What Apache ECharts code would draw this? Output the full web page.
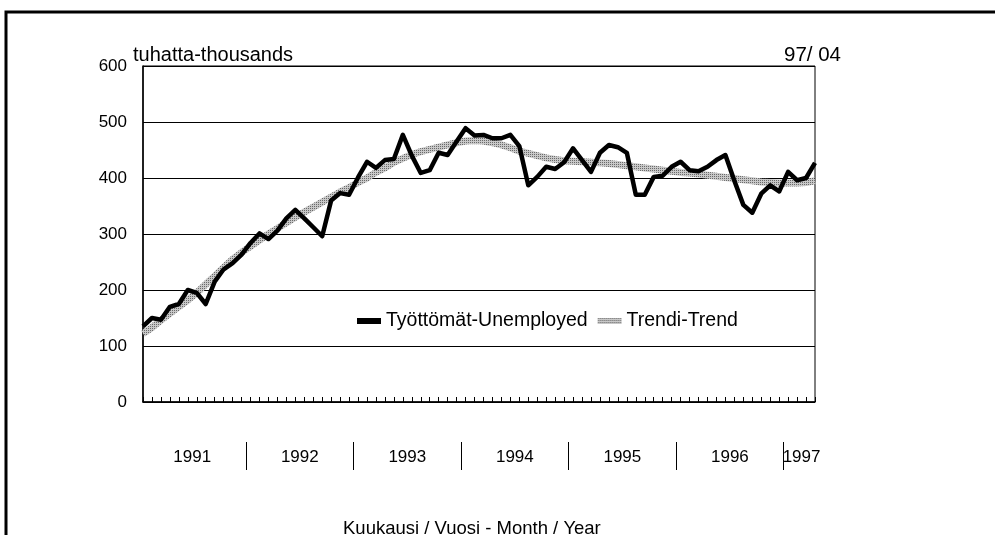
<!DOCTYPE html>
<html>
<head>
<meta charset="utf-8">
<script src="https://cdn.jsdelivr.net/npm/echarts@6/dist/echarts.min.js"></script>
<style>
  html, body { margin: 0; padding: 0; background: #fff; }
  #main { width: 995px; height: 535px; }
</style>
</head>
<body>
<div id="main"></div>
<script>
// kuukaudet 1991/01 - 1997/04
let years = ['1991', '1992', '1993', '1994', '1995', '1996', '1997'];
let monthsInYear = [12, 12, 12, 12, 12, 12, 4];

// tuhatta-thousands
let unemployed = [135, 150, 147, 170, 175, 200, 195, 175, 215, 237,
                  248, 263, 284, 301, 291, 306, 328, 343, 328, 312,
                  296, 360, 373, 370, 401, 429, 418, 432, 434, 477,
                  440, 409, 414, 445, 441, 465, 489, 476, 477, 471,
                  471, 477, 457, 387, 402, 420, 416, 428, 453, 432,
                  411, 445, 459, 455, 445, 370, 370, 402, 404, 420,
                  429, 414, 412, 420, 432, 441, 395, 352, 338, 372,
                  387, 376, 411, 396, 400, 427];
let trend = [122, 133, 146, 158, 170, 182, 195, 210, 225, 240,
             255, 267, 278, 289, 300, 310, 320, 330, 339, 348,
             357, 366, 375, 383, 392, 400, 410, 418, 428, 435,
             442, 447, 451, 455, 459, 463, 466, 467, 466, 463,
             459, 454, 448, 444, 440, 436, 433, 431, 430, 429,
             428, 427, 426, 424, 422, 420, 418, 416, 414, 412,
             410, 409, 407, 405, 403, 401, 399, 397, 395, 393,
             392, 391, 391, 391, 392, 395];

let months = [];
let yearMid = [];
let yearSep = [];
let n = 0;
years.forEach(function (y, k) {
    yearMid.push(n + (monthsInYear[k] - 1) / 2);
    for (let m = 1; m <= monthsInYear[k]; m++) {
        months.push(y + '/' + (m < 10 ? '0' + m : m));
    }
    n += monthsInYear[k];
    if (k < years.length - 1) yearSep.push(n - 0.5);
});

// harmaa "kuvioitu" trendiviiva
let pat = document.createElement('canvas');
pat.width = 4; pat.height = 4;
let pc = pat.getContext('2d');
pc.fillStyle = '#c8c8c8'; pc.fillRect(0, 0, 4, 4);
pc.fillStyle = '#6a6a6a';
pc.fillRect(0, 0, 1, 1); pc.fillRect(2, 2, 1, 1); pc.fillRect(2, 0, 1, 1); pc.fillRect(0, 2, 1, 1);
let trendColor = { image: pat, repeat: 'repeat' };

let font = 'Liberation Sans, Arial, sans-serif';
let chart = echarts.init(document.getElementById('main'));

let option = {
    backgroundColor: '#fff',
    animation: false,
    textStyle: { fontFamily: font, color: '#000' },
    title: [
        { text: 'tuhatta-thousands', left: 128, top: 40,
          textStyle: { fontSize: 20, fontWeight: 'normal', color: '#000' } },
        { text: '97/ 04', right: 149, top: 40,
          textStyle: { fontSize: 20.5, fontWeight: 'normal', color: '#000' } },
        { text: 'Kuukausi / Vuosi - Month / Year', left: 338, top: 514,
          textStyle: { fontSize: 18.5, fontWeight: 'normal', color: '#000' } }
    ],
    legend: {
        left: 352, top: 306,
        itemWidth: 24, itemHeight: 6, itemGap: 10,
        icon: 'rect',
        data: ['Työttömät-Unemployed', 'Trendi-Trend'],
        textStyle: { fontSize: 19.5, color: '#000', fontFamily: font }
    },
    grid: {
        left: 143, right: 180, top: 66, bottom: 133,
        show: true, borderColor: '#000', borderWidth: 1
    },
    xAxis: [{
        type: 'category',
        data: months,
        boundaryGap: false,
        axisLine: { lineStyle: { color: '#000', width: 1.5 } },
        axisTick: { show: true, inside: true, length: 5, interval: 0,
                    lineStyle: { color: '#000' } },
        axisLabel: { show: false },
        splitLine: { show: false }
    }, {
        type: 'value',
        min: 0, max: months.length - 1,
        position: 'bottom',
        offset: 40,
        axisLine: { show: false },
        splitLine: { show: false },
        axisTick: { show: true, customValues: yearSep, length: 28,
                    lineStyle: { color: '#000', width: 1 } },
        axisLabel: {
            customValues: yearMid, margin: 7, fontSize: 17, color: '#000',
            formatter: function (v) {
                let k = yearMid.indexOf(v);
                return k >= 0 ? years[k] : '';
            }
        }
    }],
    yAxis: {
        type: 'value',
        min: 0, max: 600, interval: 100,
        axisLine: { show: true, lineStyle: { color: '#000', width: 1.5 } },
        axisTick: { show: false },
        axisLabel: { fontSize: 17, color: '#000', margin: 16 },
        splitLine: { lineStyle: { color: '#000', width: 1 } }
    },
    series: [{
        name: 'Trendi-Trend',
        type: 'line',
        data: trend,
        symbol: 'none',
        itemStyle: { color: trendColor },
        lineStyle: { color: trendColor, width: 7 },
        z: 2
    }, {
        name: 'Työttömät-Unemployed',
        type: 'line',
        data: unemployed,
        symbol: 'none',
        itemStyle: { color: '#000' },
        lineStyle: { color: '#000', width: 4.5, join: 'round' },
        z: 3
    }],
    graphic: [{
        type: 'rect',
        shape: { x: 6, y: 12, width: 1000, height: 600 },
        style: { fill: null, stroke: '#000', lineWidth: 3 },
        silent: true
    }]
};

chart.setOption(option);
</script>
</body>
</html>
